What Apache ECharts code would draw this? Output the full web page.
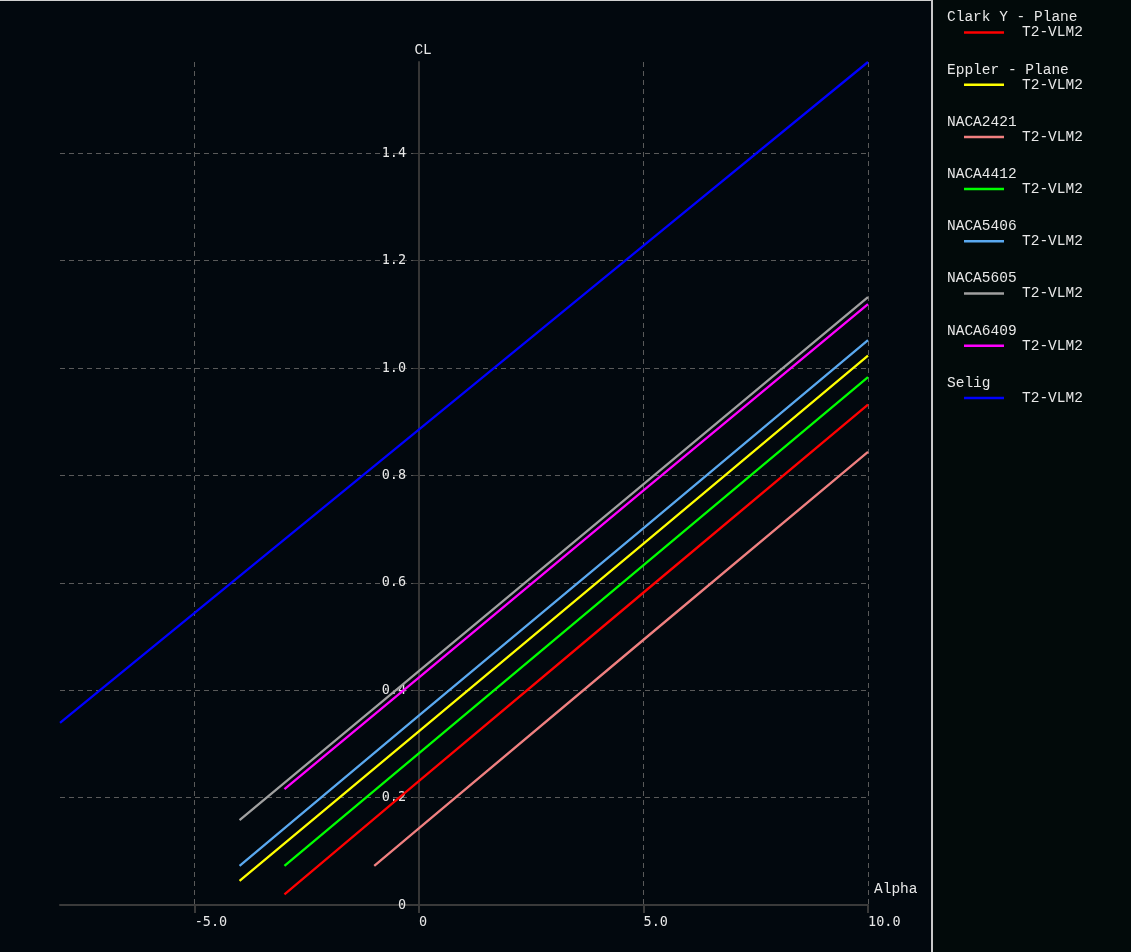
<!DOCTYPE html>
<html>
<head>
<meta charset="utf-8">
<script src="https://cdn.jsdelivr.net/npm/echarts@6/dist/echarts.min.js"></script>
<style>
  html, body { margin: 0; padding: 0; background: #02080e; }
  #chart { width: 1131px; height: 952px; }
</style>
</head>
<body>
<div id="chart"></div>
<script>
// airfoil names and colours
const airfoils = ['Clark Y - Plane', 'Eppler - Plane', 'NACA2421', 'NACA4412', 'NACA5406', 'NACA5605', 'NACA6409', 'Selig']
const colors = ['#ff0000', '#ffff00', '#f08080', '#00ff00', '#5aa9f0', '#a0a0a0', '#ff00ff', '#0000ff']
const method = 'T2-VLM2'

// [alpha, CL] pairs
const clarkY = [[-3, 0.020], [0, 0.231], [5, 0.582], [10, 0.932]]
const eppler = [[-4, 0.045], [0, 0.324], [5, 0.673], [10, 1.023]]
const naca2421 = [[-1, 0.073], [0, 0.143], [5, 0.494], [10, 0.844]]
const naca4412 = [[-3, 0.073], [0, 0.283], [5, 0.633], [10, 0.983]]
const naca5406 = [[-4, 0.073], [0, 0.353], [5, 0.702], [10, 1.052]]
const naca5605 = [[-4, 0.158], [0, 0.436], [5, 0.784], [10, 1.132]]
const naca6409 = [[-3, 0.216], [0, 0.424], [5, 0.772], [10, 1.119]]
const selig = [[-8, 0.339], [0, 0.886], [5, 1.228], [10, 1.570]]
const seriesData = [clarkY, eppler, naca2421, naca4412, naca5406, naca5605, naca6409, selig]

const xTicks = [-5, 0, 5, 10]
const xMin = -8
const xMax = 10

const serifMono = "'Courier New', 'Liberation Mono', monospace"
const sansMono = "'DejaVu Sans Mono', monospace"

const chart = echarts.init(document.getElementById('chart'))

const fmt = v => (v === 0 ? '0' : v.toFixed(1))

// grid geometry
const gridLeft = 60
const gridWidth = 1131 - gridLeft - 263
// move the y axis in to alpha = 0
const yAxisOffset = -gridWidth * (0 - xMin) / (xMax - xMin)

const option = {
  backgroundColor: '#02080e',
  animation: false,
  graphic: [
    { type: 'rect', shape: { x: 933, y: 0, width: 198, height: 952 }, style: { fill: '#020a0a' }, z: -1 },
    { type: 'rect', shape: { x: 0, y: 0, width: 932, height: 1 }, style: { fill: '#d0d0d0' } },
    { type: 'rect', shape: { x: 931, y: 0, width: 2, height: 952 }, style: { fill: '#c8c8c8' } }
  ],
  grid: { left: gridLeft, right: 263, top: 62, bottom: 47 },
  legend: [
    {
      // line samples + method label
      orient: 'vertical',
      left: 959,
      top: 20,
      icon: 'rect',
      itemWidth: 40,
      itemHeight: 2.5,
      itemGap: 37.2,
      data: airfoils,
      formatter: () => method,
      textStyle: { color: '#e8e8e8', fontFamily: serifMono, fontSize: 14.5, padding: [0, 0, 0, 13] }
    },
    {
      // airfoil titles
      orient: 'vertical',
      left: 937,
      top: 5,
      icon: 'none',
      itemWidth: 0,
      itemHeight: 2.5,
      itemGap: 37.2,
      selectedMode: false,
      data: airfoils,
      textStyle: { color: '#e8e8e8', fontFamily: serifMono, fontSize: 14.5 }
    }
  ],
  xAxis: {
    type: 'value',
    min: xMin,
    max: xMax,
    name: 'Alpha',
    nameLocation: 'end',
    nameGap: 6,
    nameTextStyle: { color: '#e8e8e8', fontFamily: serifMono, fontSize: 14.5, verticalAlign: 'bottom', padding: [0, 0, 8, 0] },
    axisLine: { onZero: false, lineStyle: { color: '#3a3a3a', width: 2 } },
    axisTick: { show: true, length: 8, lineStyle: { color: '#3a3a3a', width: 2 }, customValues: xTicks },
    axisLabel: {
      color: '#e8e8e8', fontFamily: sansMono, fontSize: 13.5, margin: 10, align: 'left',
      customValues: xTicks, formatter: fmt
    },
    splitLine: { show: true, lineStyle: { color: '#5a5a5a', type: [5, 4], width: 1 } }
  },
  yAxis: {
    type: 'value',
    min: 0,
    max: 'dataMax',
    interval: 0.2,
    offset: yAxisOffset,
    name: 'CL',
    nameLocation: 'end',
    nameGap: 4,
    nameTextStyle: { color: '#e8e8e8', fontFamily: serifMono, fontSize: 14.5, padding: [0, 0, 0, 8] },
    axisLine: { onZero: false, lineStyle: { color: '#363636', width: 2 } },
    axisTick: { show: true, length: 6, lineStyle: { color: '#3a3a3a', width: 1 } },
    axisLabel: { color: '#e8e8e8', fontFamily: sansMono, fontSize: 13.5, margin: 13, showMaxLabel: false, formatter: fmt },
    splitLine: { show: true, showMaxLine: false, lineStyle: { color: '#5a5a5a', type: [5, 4], width: 1 } }
  },
  series: airfoils.map((name, i) => ({
    name: name,
    type: 'line',
    data: seriesData[i],
    symbol: 'none',
    color: colors[i],
    lineStyle: { color: colors[i], width: 2.3 }
  }))
}

chart.setOption(option)
</script>
</body>
</html>
